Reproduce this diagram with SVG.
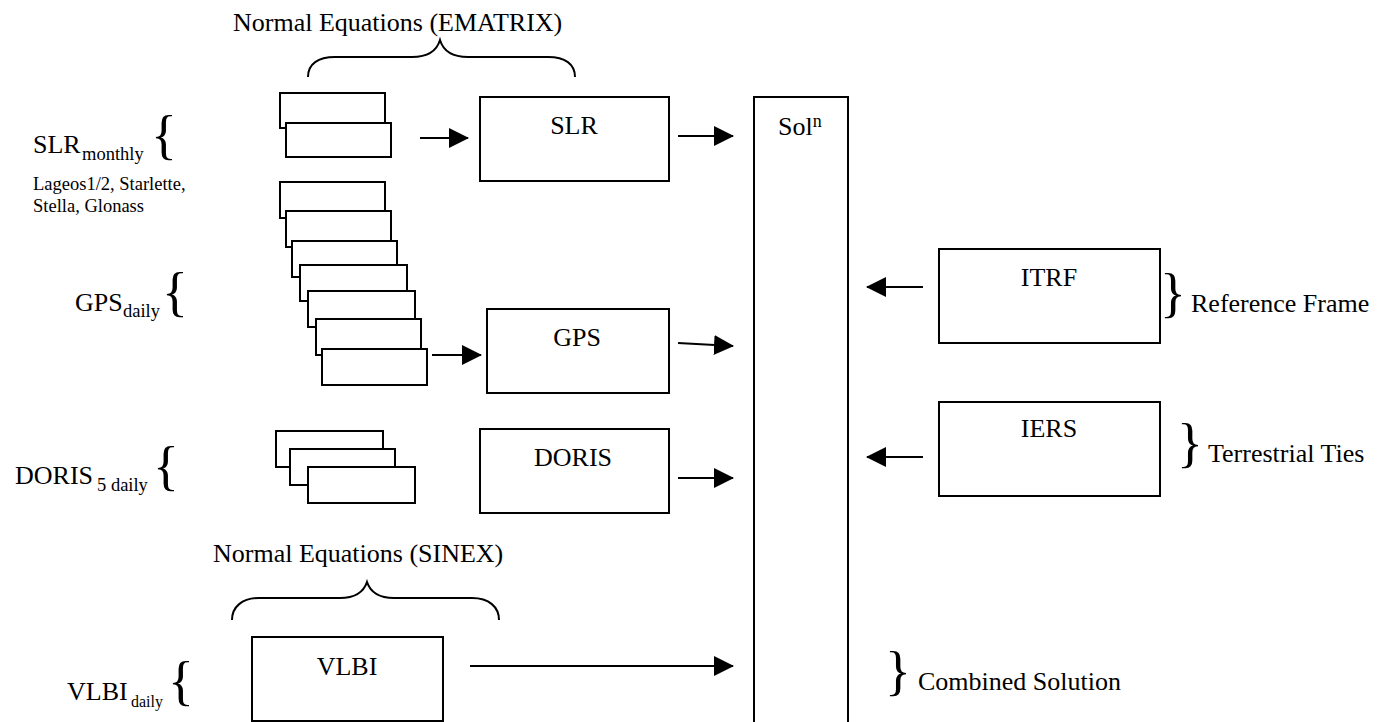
<svg xmlns="http://www.w3.org/2000/svg" width="1392" height="722" viewBox="0 0 1392 722">
<defs>
<style>
text{font-family:"Liberation Serif","Times New Roman",serif;fill:#000}
.t{font-size:26px}
.c{font-size:26px;text-anchor:middle}
.s{font-size:18.5px}
.b{font-size:54px}
.box{fill:#fff;stroke:#000;stroke-width:2}
.ln{fill:none;stroke:#000;stroke-width:2}
.br{fill:none;stroke:#000;stroke-width:2}
</style>
<marker id="ah" markerUnits="userSpaceOnUse" markerWidth="20" markerHeight="20" refX="19" refY="10" orient="auto">
<path d="M0,0 L20,10 L0,20 z" fill="#000"/>
</marker>
</defs>
<rect width="1392" height="722" fill="#fff"/>

<g id="label-ematrix">
<text class="t" x="233" y="31">Normal Equations (EMATRIX)</text>
<path class="br" d="M308,77 C308,64 318,57 335,57 L412,57 C428,57 437,50 440,40 C443,50 452,57 468,57 L548,57 C565,57 575,64 575,77"/>
</g>

<g id="label-sinex">
<text class="t" x="213" y="562">Normal Equations (SINEX)</text>
<path class="br" d="M232,620 C232,607 242,598 259,598 L340,598 C356,598 364,591 367,582 C370,591 378,598 394,598 L472,598 C489,598 499,607 499,620"/>
</g>

<g id="label-slr">
<text class="t" x="33" y="153">SLR<tspan class="s" x="82" y="160">monthly</tspan></text>
<text class="b" x="151" y="153">{</text>
<text class="s" x="33" y="190">Lageos1/2, Starlette,</text>
<text class="s" x="33" y="212">Stella, Glonass</text>
</g>

<g id="label-gps">
<text class="t" x="75" y="311">GPS<tspan x="123" y="317" style="font-size:18.5px">daily</tspan></text>
<text class="b" x="162" y="310">{</text>
</g>

<g id="label-doris">
<text class="t" x="15" y="484">DORIS<tspan x="97" y="491" style="font-size:18.5px">5 daily</tspan></text>
<text class="b" x="153" y="484">{</text>
</g>

<g id="label-vlbi">
<text class="t" x="67" y="700">VLBI<tspan x="131" y="707" style="font-size:16px">daily</tspan></text>
<text class="b" x="168" y="699">{</text>
</g>

<g id="stack-slr">
<rect class="box" x="280" y="93" width="105" height="35"/>
<rect class="box" x="286" y="123" width="105" height="34"/>
</g>

<g id="stack-gps">
<rect class="box" x="280" y="182" width="105" height="36"/>
<rect class="box" x="286" y="211" width="105" height="36"/>
<rect class="box" x="292" y="241" width="105" height="36"/>
<rect class="box" x="300" y="265" width="107" height="36"/>
<rect class="box" x="308" y="291" width="107" height="36"/>
<rect class="box" x="316" y="319" width="105" height="36"/>
<rect class="box" x="322" y="349" width="105" height="36"/>
</g>

<g id="stack-doris">
<rect class="box" x="276" y="431" width="107" height="36"/>
<rect class="box" x="290" y="449" width="105" height="36"/>
<rect class="box" x="308" y="467" width="107" height="36"/>
</g>

<g id="node-slr">
<rect class="box" x="480" y="97" width="189" height="84"/>
<text class="c" x="574" y="134">SLR</text>
</g>

<g id="node-gps">
<rect class="box" x="487" y="309" width="182" height="84"/>
<text class="c" x="577" y="346">GPS</text>
</g>

<g id="node-doris">
<rect class="box" x="480" y="429" width="189" height="84"/>
<text class="c" x="573" y="466">DORIS</text>
</g>

<g id="node-vlbi">
<rect class="box" x="252" y="637" width="191" height="84"/>
<text class="c" x="347" y="675">VLBI</text>
</g>

<g id="node-soln">
<rect class="box" x="754" y="97" width="94" height="640"/>
<text class="t" x="778" y="135">Sol<tspan style="font-size:18px" dy="-8">n</tspan></text>
</g>

<g id="node-itrf">
<rect class="box" x="939" y="249" width="221" height="94"/>
<text class="c" x="1049" y="286">ITRF</text>
<text class="b" x="1160" y="311">}</text>
<text class="t" x="1191" y="312">Reference Frame</text>
</g>

<g id="node-iers">
<rect class="box" x="939" y="402" width="221" height="94"/>
<text class="c" x="1049" y="437">IERS</text>
<text class="b" x="1177" y="461">}</text>
<text class="t" x="1208" y="462">Terrestrial Ties</text>
</g>

<g id="label-combined">
<text class="b" x="885" y="689">}</text>
<text class="t" x="918" y="690">Combined Solution</text>
</g>

<g id="connectors">
<line class="ln" x1="420" y1="138" x2="468" y2="138" marker-end="url(#ah)"/>
<line class="ln" x1="678" y1="136" x2="733" y2="136" marker-end="url(#ah)"/>
<line class="ln" x1="432" y1="355" x2="481" y2="355" marker-end="url(#ah)"/>
<line class="ln" x1="678" y1="343" x2="733" y2="346" marker-end="url(#ah)"/>
<line class="ln" x1="678" y1="478" x2="733" y2="478" marker-end="url(#ah)"/>
<line class="ln" x1="470" y1="666" x2="733" y2="666" marker-end="url(#ah)"/>
<line class="ln" x1="923" y1="287" x2="867" y2="287" marker-end="url(#ah)"/>
<line class="ln" x1="923" y1="457" x2="867" y2="457" marker-end="url(#ah)"/>
</g>
</svg>
